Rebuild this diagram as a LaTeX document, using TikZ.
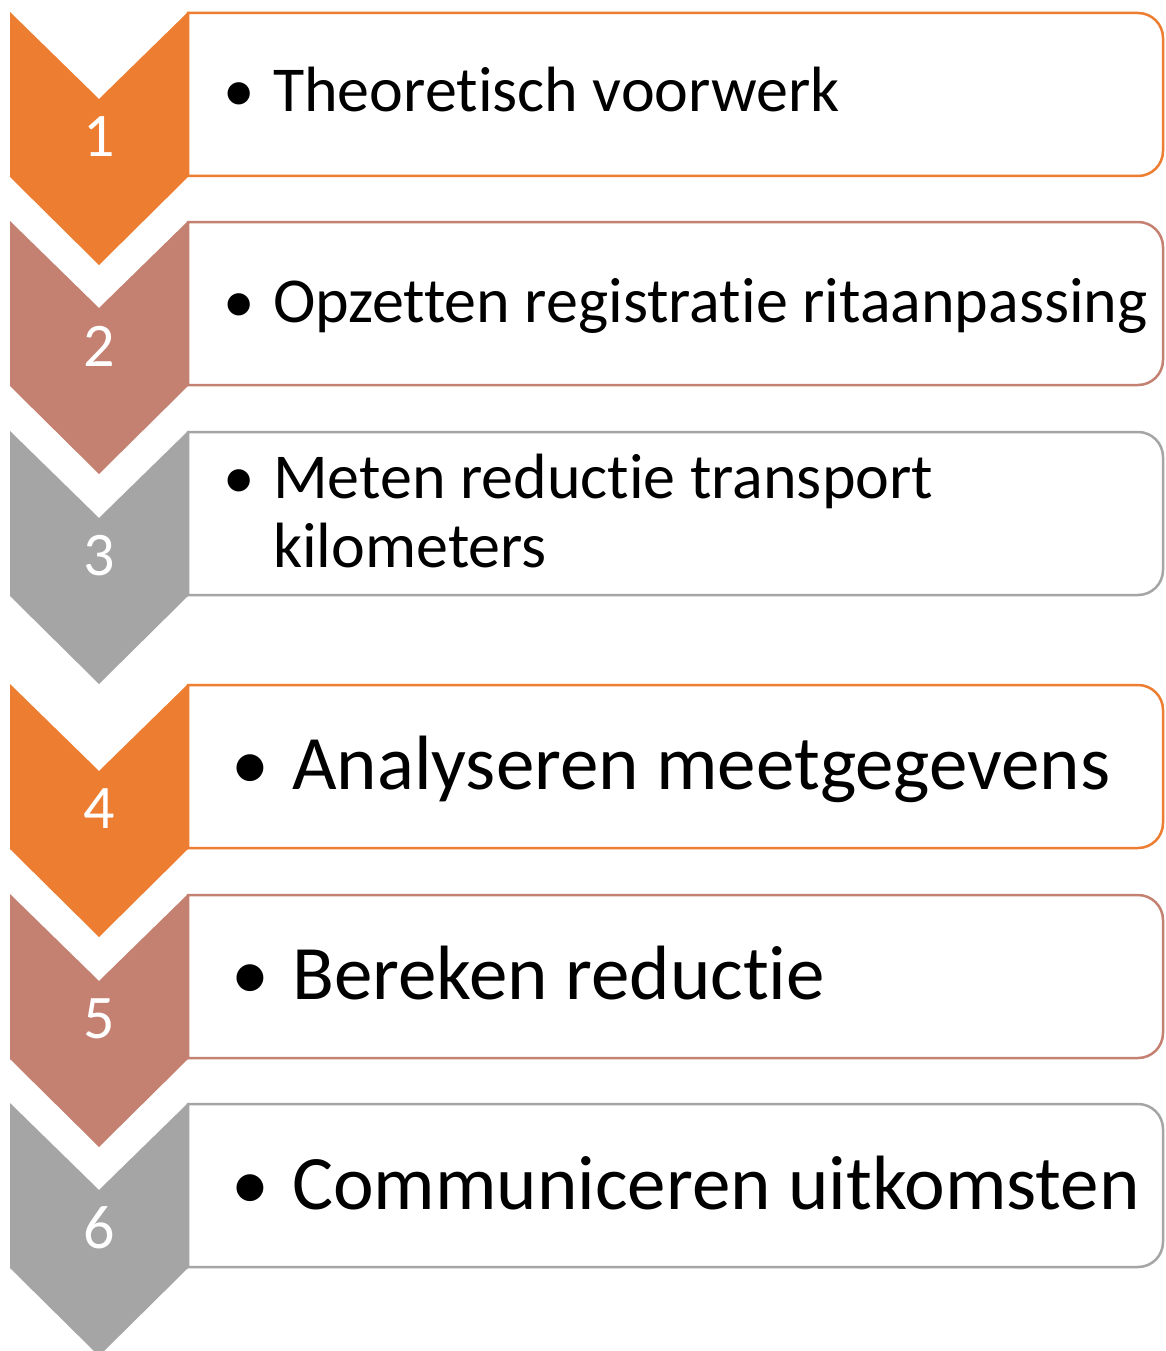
\documentclass[tikz,border=0pt]{standalone}
\usepackage{fontspec}
\setmainfont{Carlito}[Ligatures=NoCommon]
\definecolor{corange}{RGB}{237,125,49}
\definecolor{cbrown}{RGB}{196,129,114}
\definecolor{cgray}{RGB}{165,165,165}
\begin{document}
\begin{tikzpicture}[x=1pt,y=-1pt,
  boxline/.style={line width=2.5pt, fill=white},
  num/.style={text=white, inner sep=0pt, font=\fontsize{62}{62}\selectfont},
  itemA/.style={anchor=base west, inner sep=0pt, font=\fontsize{64}{70}\selectfont},
  itemB/.style={anchor=base west, inner sep=0pt, font=\fontsize{77}{84}\selectfont},
  bulA/.style={anchor=base, inner sep=0pt, font=\fontsize{63}{70}\selectfont},
  bulB/.style={anchor=base, inner sep=0pt, font=\fontsize{76}{84}\selectfont}]
\useasboundingbox (0,0) rectangle (1165,1351);
\fill[white] (0,0) rectangle (1165,1351);
\foreach \T/\c/\n in {12/corange/1, 221/cbrown/2, 431/cgray/3, 684/corange/4, 894/cbrown/5, 1103/cgray/6} {
  \draw[boxline, draw=\c] (188,\T+1) -- (1138,\T+1)
     arc[start angle=-90, end angle=0, radius=25] -- (1163,\T+139)
     arc[start angle=0, end angle=90, radius=25] -- (188,\T+164) -- cycle;
  \fill[\c] (10,\T) -- (99,\T+87) -- (188,\T) -- (188,\T+165) -- (99,\T+253) -- (10,\T+165) -- cycle;
  \node[num] (n\n) at (99,\T+125) {\n};
}
% items 1-3
\node[bulA] (b1) at (239,112) {•};
\node[itemA] (t1) at (273,112) {Theoretisch voorwerk};
\node[bulA] (b2) at (239,322) {•};
\node[itemA] (t2) at (273,322) {Opzetten registratie ritaanpassing};
\node[bulA] (b3) at (239,498) {•};
\node[itemA] (t3) at (273,498) {Meten reductie transport};
\node[itemA] (t3b) at (273,567) {kilometers};
% items 4-6
\node[bulB] (b4) at (250,789) {•};
\node[itemB] (t4) at (292,789) {Analyseren meetgegevens};
\node[bulB] (b5) at (250,999) {•};
\node[itemB] (t5) at (292,999) {Bereken reductie};
\node[bulB] (b6) at (250,1209) {•};
\node[itemB] (t6) at (292,1209) {Communiceren uitkomsten};
\end{tikzpicture}
\end{document}
